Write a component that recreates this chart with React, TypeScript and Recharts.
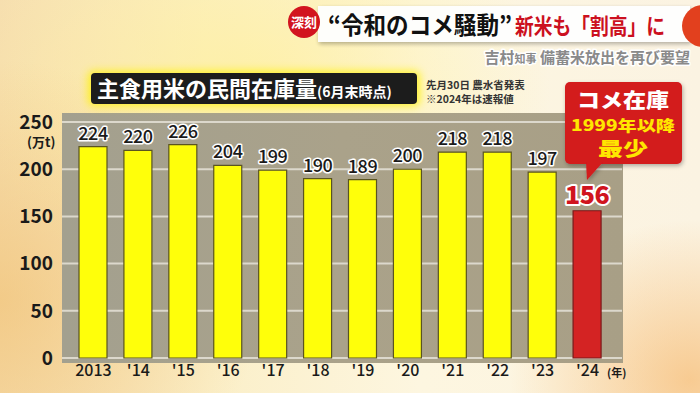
import React from "react";
import { BarChart, Bar, XAxis, YAxis, CartesianGrid, Cell, LabelList } from "recharts";

const years = ["2013", "'14", "'15", "'16", "'17", "'18", "'19", "'20", "'21", "'22", "'23", "'24"];
const stock = [224, 220, 226, 204, 199, 190, 189, 200, 218, 218, 197, 156];
const yTicks = [0, 50, 100, 150, 200, 250];
const highlightIndex = 11;

const data = years.map((y, i) => ({ year: y, value: stock[i] }));

const FONT = "'Noto Sans CJK JP', 'Noto Sans', sans-serif";

const ValueLabel = (props: any) => {
  const { x, y, width, value, index } = props;
  const isHi = index === highlightIndex;
  return (
    <text
      x={x + width / 2}
      y={y - 7}
      textAnchor="middle"
      fontFamily={FONT}
      fontWeight={isHi ? 900 : 500}
      fontSize={isHi ? 25 : 18}
      fill={isHi ? "#d0141e" : "#1a1a1a"}
      stroke="#ffffff"
      strokeWidth={isHi ? 4 : 3}
      strokeLinejoin="round"
      style={{ paintOrder: "stroke" }}
      letterSpacing={-0.5}
    >
      {value}
    </text>
  );
};

export default function App() {
  return (
    <div
      style={{
        position: "absolute",
        left: 0,
        top: 0,
        width: 700,
        height: 393,
        overflow: "hidden",
        fontFamily: FONT,
        background:
          "radial-gradient(ellipse 180px 160px at 690px 380px, rgba(245,170,80,0.55), rgba(245,170,80,0) 100%), radial-gradient(ellipse 260px 240px at 0px 300px, rgba(240,190,110,0.6), rgba(240,190,110,0) 100%), radial-gradient(ellipse 300px 200px at 250px 90px, rgba(255,240,150,0.7), rgba(255,240,150,0) 100%), linear-gradient(90deg, #f6deb0 0%, #fbefc8 30%, #fdf6e0 60%, #fbf3e2 100%)",
      }}
    >
      {/* plot background */}
      <div
        style={{
          position: "absolute",
          left: 62,
          top: 113,
          width: 561,
          height: 250,
          background: "linear-gradient(90deg, #a3a08f 0%, #aaa28a 50%, #a89f86 100%)",
        }}
      />
      <div style={{ position: "absolute", left: 0, top: 0 }}>
        <BarChart
          width={700}
          height={393}
          data={data}
          margin={{ top: 122, right: 78, bottom: 6, left: 0 }}
          barSize={28}
        >
          <CartesianGrid vertical={false} stroke="#dcd8cc" strokeWidth={2} />
          <XAxis
            dataKey="year"
            axisLine={false}
            tickLine={false}
            interval={0}
            height={29}
            padding={{ left: 9, right: 12 }}
            tick={{ fontSize: 16, fill: "#1a1a1a", fontFamily: FONT, fontWeight: 500 }}
            tickMargin={1}
          />
          <YAxis
            domain={[0, 250]}
            ticks={yTicks}
            axisLine={false}
            tickLine={false}
            width={62}
            tickMargin={3}
            tick={{ fontSize: 19, fill: "#1a1a1a", fontFamily: FONT, fontWeight: 700 }}
          />
          <Bar dataKey="value" isAnimationActive={false} stroke="#5a5420" strokeWidth={1.2}>
            {data.map((d, i) => (
              <Cell key={d.year} fill={i === highlightIndex ? "#d42323" : "#ffff0a"} stroke={i === highlightIndex ? "#7a1a1a" : "#5a5420"} />
            ))}
            <LabelList dataKey="value" content={<ValueLabel />} />
          </Bar>
        </BarChart>
      </div>

      <svg
        width={700}
        height={393}
        style={{ position: "absolute", left: 0, top: 0, pointerEvents: "none" }}
        fontFamily={FONT}
      >
        <defs>
          <filter id="glow" x="-20%" y="-60%" width="140%" height="220%">
            <feGaussianBlur stdDeviation="4" />
          </filter>
          <filter id="shadow" x="-10%" y="-20%" width="120%" height="150%">
            <feDropShadow dx="1" dy="2" stdDeviation="2" floodColor="#000" floodOpacity="0.3" />
          </filter>
        </defs>

        {/* (万t) and (年) */}
        <text x={27} y={147} fontSize={13} fontWeight={700} fill="#1a1a1a">(万t)</text>
        <text x={607} y={377} fontSize={11} fontWeight={700} fill="#1a1a1a">(年)</text>

        {/* Header banner */}
        <rect x={318} y={6} width={372} height={36} fill="#ffffff" opacity={0.95} filter="url(#shadow)" />
        <circle cx={304} cy={22} r={16} fill="#d2141f" />
        <text x={304} y={27} textAnchor="middle" fontSize={13} fontWeight={700} fill="#ffffff">深刻</text>
        <text x={328} y={34} fontSize={24} fontWeight={700} fill="#111" textLength={184} lengthAdjust="spacingAndGlyphs">“令和のコメ騒動”</text>
        <text x={515} y={34} fontSize={22} fontWeight={700} fill="#cc1020" textLength={150} lengthAdjust="spacingAndGlyphs">新米も「割高」に</text>
        <circle cx={703} cy={26} r={21} fill="#e2401e" />

        <text
          x={690}
          y={63}
          textAnchor="end"
          fontSize={15}
          fontWeight={700}
          fill="#8a8a8a"
          stroke="#ffffff"
          strokeWidth={3}
          strokeLinejoin="round"
          style={{ paintOrder: "stroke" }}
        >
          吉村<tspan fontSize={11}>知事</tspan> 備蓄米放出を再び要望
        </text>

        {/* Title box */}
        <rect x={88} y={71} width={332} height={35} rx={5} fill="#fff200" opacity={0.8} filter="url(#glow)" />
        <rect x={91} y={73} width={326} height={31} rx={4} fill="#1c1c1c" />
        <text x={97} y={97} fontSize={22} fontWeight={700} fill="#ffffff">
          主食用米の民間在庫量<tspan fontSize={14}>(6月末時点)</tspan>
        </text>

        {/* Source */}
        <text x={426} y={89} fontSize={10.5} fontWeight={700} fill="#333">先月30日 農水省発表</text>
        <text x={426} y={103} fontSize={10.5} fontWeight={700} fill="#333">※2024年は速報値</text>

        {/* Callout */}
        <g filter="url(#shadow)">
          <rect x={565} y={82} width={117} height={82} rx={5} fill="#d31a1f" />
          <polygon points="586,162 603,162 587,180" fill="#d31a1f" />
        </g>
        <text x={623} y={108} textAnchor="middle" fontSize={20} fontWeight={900} fill="#ffffff" textLength={92} lengthAdjust="spacingAndGlyphs">コメ在庫</text>
        <text x={623} y={131} textAnchor="middle" fontSize={15} fontWeight={900} fill="#ffe600" textLength={104} lengthAdjust="spacingAndGlyphs">1999年以降</text>
        <text x={623} y={156} textAnchor="middle" fontSize={19} fontWeight={900} fill="#ffe600" textLength={50} lengthAdjust="spacingAndGlyphs">最少</text>
      </svg>
    </div>
  );
}
